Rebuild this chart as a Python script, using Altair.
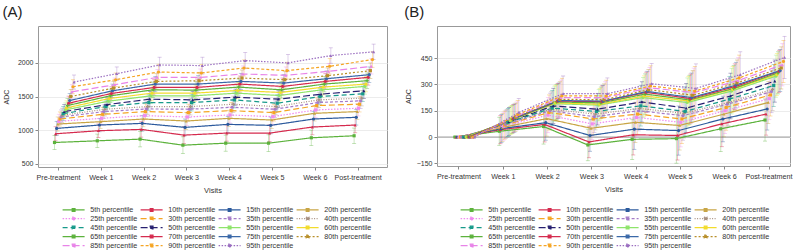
import altair as alt
import pandas as pd

VISITS = ["Pre-treatment", "Week 1", "Week 2", "Week 3", "Week 4", "Week 5", "Week 6", "Post-treatment"]
PCTS = [f"{p}th percentile" for p in range(5, 100, 5)]
MARKER_KEYS = [f"m{p}" for p in range(5, 100, 5)]

COLORS = ["#5cb23c", "#d52b4e", "#2c5a9d", "#c8a545", "#f08cf0", "#f5a524", "#a57cc8", "#a79080",
          "#179a8a", "#272070", "#8ee46a", "#f2dc2c", "#5cb23c", "#d52b4e", "#3a68a8", "#b88f2a",
          "#e884e8", "#f5a524", "#9b6fc0"]
DASHES = [[1, 0], [1, 0], [1, 0], [1, 0], [1.5, 1.5], [6, 3], [3, 2], [1, 1.5],
          [5, 3], [7, 3], [1, 0], [1, 0], [1, 0], [1, 0], [1, 0], [2, 2],
          [7, 3], [3, 2], [1.5, 1.5]]
SHAPES = ["square", "triangle-up", "circle", "triangle-up", "square", "square", "circle", "cross",
          "square", "triangle-up", "circle", "circle", "cross", "circle", "circle", "square",
          "triangle-up", "circle", "triangle-up"]

# Panel A: ADC by percentile (5th..95th) at each visit
A_PRE = [815, 945, 1025, 1090, 1130, 1165, 1195, 1220, 1245, 1275, 1300, 1330, 1365, 1400, 1440, 1500, 1570, 1645, 1715]
A_W1 = [840, 990, 1075, 1125, 1175, 1235, 1275, 1310, 1350, 1380, 1430, 1470, 1510, 1545, 1585, 1625, 1675, 1750, 1840]
A_W2 = [865, 1010, 1100, 1165, 1215, 1275, 1315, 1350, 1410, 1460, 1510, 1550, 1600, 1635, 1685, 1725, 1785, 1865, 1970]
A_W3 = [775, 925, 1040, 1135, 1195, 1260, 1310, 1350, 1410, 1450, 1510, 1550, 1595, 1635, 1685, 1735, 1785, 1850, 1960]
A_W4 = [805, 955, 1085, 1175, 1225, 1290, 1340, 1385, 1450, 1490, 1550, 1590, 1640, 1685, 1725, 1775, 1835, 1925, 2035]
A_W5 = [805, 955, 1070, 1150, 1200, 1260, 1310, 1350, 1400, 1460, 1515, 1560, 1600, 1650, 1700, 1750, 1815, 1885, 2000]
A_W6 = [885, 1045, 1165, 1250, 1300, 1365, 1410, 1450, 1500, 1535, 1600, 1640, 1685, 1725, 1765, 1810, 1875, 1950, 2110]
A_POST = [915, 1075, 1190, 1275, 1325, 1385, 1435, 1475, 1540, 1585, 1650, 1685, 1735, 1785, 1825, 1885, 1950, 2050, 2165]
A_ERR = [105, 100, 115, 125, 120, 125, 115, 115]

# Panel B: change in ADC from pre-treatment
B_PRE = [0] * 19
B_W1 = [33, 42, 48, 55, 62, 68, 73, 78, 83, 88, 93, 97, 101, 105, 108, 113, 120, 128, 140]
B_W2 = [60, 72, 82, 105, 125, 140, 150, 158, 165, 178, 190, 195, 200, 205, 208, 215, 225, 235, 248]
B_W3 = [-45, -28, 9, 50, 75, 103, 116, 131, 146, 159, 182, 187, 195, 202, 205, 213, 225, 234, 247]
B_W4 = [-13, 13, 45, 84, 112, 131, 150, 163, 178, 200, 225, 234, 245, 255, 260, 270, 281, 291, 304]
B_W5 = [-9, 9, 37, 66, 84, 103, 122, 135, 146, 165, 197, 206, 212, 219, 225, 238, 253, 262, 277]
B_W6 = [47, 75, 103, 131, 150, 169, 187, 197, 216, 234, 262, 272, 277, 287, 296, 309, 322, 337, 356]
B_POST = [97, 131, 160, 197, 219, 240, 259, 272, 294, 319, 347, 356, 366, 375, 379, 394, 412, 431, 454]
B_ERR = [3, 80, 100, 90, 115, 140, 130, 120]

FONT = "Liberation Sans"
TXT = "#333333"


def build_df(arrays, errs):
    rows = []
    for v, arr, e in zip(VISITS, arrays, errs):
        for p, m, val in zip(PCTS, MARKER_KEYS, arr):
            rows.append({"visit": v, "pct": p, "pshape": m, "adc": val, "lo": val - e, "hi": val + e})
    return pd.DataFrame(rows)


def legend_def(lx, ly, colpad):
    return alt.Legend(title=None, orient="none", legendX=lx, legendY=ly, direction="horizontal",
                      columns=4, symbolType="M-1,0L21,0M8.6,-1.4L11.4,-1.4L11.4,1.4L8.6,1.4Z",
                      symbolSize=4, symbolOpacity=1,
                      symbolStrokeWidth=1.2, labelFontSize=7.2, labelColor=TXT,
                      labelFont=FONT, rowPadding=0, columnPadding=colpad, labelOffset=23,
                      padding=0, labelLimit=200)


def panel(df, title, ydomain, yticks, height, width, title_offset, xpad, xalign, zero, lx, ly, colpad, ytp):
    x = alt.X("visit:N", sort=VISITS,
              scale=alt.Scale(type="point", padding=xpad, align=xalign),
              axis=alt.Axis(title="Visits", labelAngle=0, labelFontSize=7.2, titleFontSize=7.5,
                            titleFontWeight="normal", labelColor=TXT, titleColor=TXT,
                            tickSize=3, tickColor="#888", domain=False, grid=False,
                            labelPadding=3, titlePadding=6, labelFont=FONT, titleFont=FONT))
    xo = alt.XOffset("pct:N", sort=PCTS, scale=alt.Scale(type="point", domain=PCTS, range=[-3.5, 16], padding=0))
    yaxis = alt.Axis(title="ADC", values=yticks, format="d", labelFontSize=7, titleFontSize=7,
                     titleFontWeight="normal", labelColor=TXT, titleColor=TXT, tickSize=3,
                     tickColor="#888", domain=False, grid=True, gridColor="#ececec",
                     labelPadding=2, titlePadding=ytp, labelFont=FONT, titleFont=FONT)
    yscale = alt.Scale(domain=ydomain, nice=False, zero=False)
    cscale = alt.Scale(domain=PCTS, range=COLORS)
    dscale = alt.Scale(domain=PCTS, range=DASHES)
    leg = legend_def(lx, ly, colpad)
    col = alt.Color("pct:N", sort=PCTS, scale=cscale, legend=leg)

    base = alt.Chart(df)
    err = base.mark_rule(strokeWidth=0.8, opacity=0.4).encode(
        x=x, xOffset=xo,
        y=alt.Y("lo:Q", scale=yscale, axis=yaxis, title="ADC"), y2="hi:Q", color=col)
    caplo = base.mark_tick(orient="horizontal", size=4, thickness=0.8, opacity=0.45).encode(
        x=x, xOffset=xo, y=alt.Y("lo:Q", scale=yscale, axis=yaxis, title="ADC"), color=col)
    caphi = base.mark_tick(orient="horizontal", size=4, thickness=0.8, opacity=0.45).encode(
        x=x, xOffset=xo, y=alt.Y("hi:Q", scale=yscale, axis=yaxis, title="ADC"), color=col)
    lines = base.mark_line(strokeWidth=1.2).encode(
        x=x, xOffset=xo, y=alt.Y("adc:Q", scale=yscale, axis=yaxis, title="ADC"),
        color=col,
        strokeDash=alt.StrokeDash("pct:N", sort=PCTS, scale=dscale, legend=leg))
    pts = base.mark_point(filled=True, size=10, opacity=1).encode(
        x=x, xOffset=xo, y=alt.Y("adc:Q", scale=yscale, axis=yaxis, title="ADC"),
        color=col,
        shape=alt.Shape("pshape:N", sort=MARKER_KEYS,
                        scale=alt.Scale(domain=MARKER_KEYS, range=SHAPES), legend=None))
    layers = [err, caplo, caphi, lines, pts]
    if zero:
        zr = alt.Chart(pd.DataFrame({"z": [0]})).mark_rule(color="#999", strokeWidth=1).encode(
            y=alt.Y("z:Q", scale=yscale, axis=yaxis, title="ADC"))
        layers = [zr] + layers
    return alt.layer(*layers).properties(
        width=width, height=height,
        title=alt.TitleParams(title, anchor="start", frame="bounds", fontSize=15, fontWeight="normal",
                              font=FONT, color="#222", offset=title_offset)
    )


dfA = build_df([A_PRE, A_W1, A_W2, A_W3, A_W4, A_W5, A_W6, A_POST], A_ERR)
dfB = build_df([B_PRE, B_W1, B_W2, B_W3, B_W4, B_W5, B_W6, B_POST], B_ERR)

pA = panel(dfA, "(A)", [450, 2550], [500, 1000, 1500, 2000], 141, 349, 6, 0.577, 0.405, False, 22, 180, -9, 8)
pB = panel(dfB, "(B)", [-165, 633], [-150, 0, 150, 300, 450], 140, 353, 6, 0.485, 0.5, True, 21, 180, -2, 5)

chart = alt.hconcat(pA, pB, spacing=15).resolve_scale(
    color="independent", strokeDash="independent", shape="independent",
    x="independent", y="independent", xOffset="independent"
).resolve_legend(color="independent", strokeDash="independent").configure_view(
    stroke="#999", strokeWidth=1
).properties(padding={"left": 1, "top": 4, "right": 2, "bottom": 0})

chart.save("out.html", embed_options={"renderer": "svg", "actions": False})
